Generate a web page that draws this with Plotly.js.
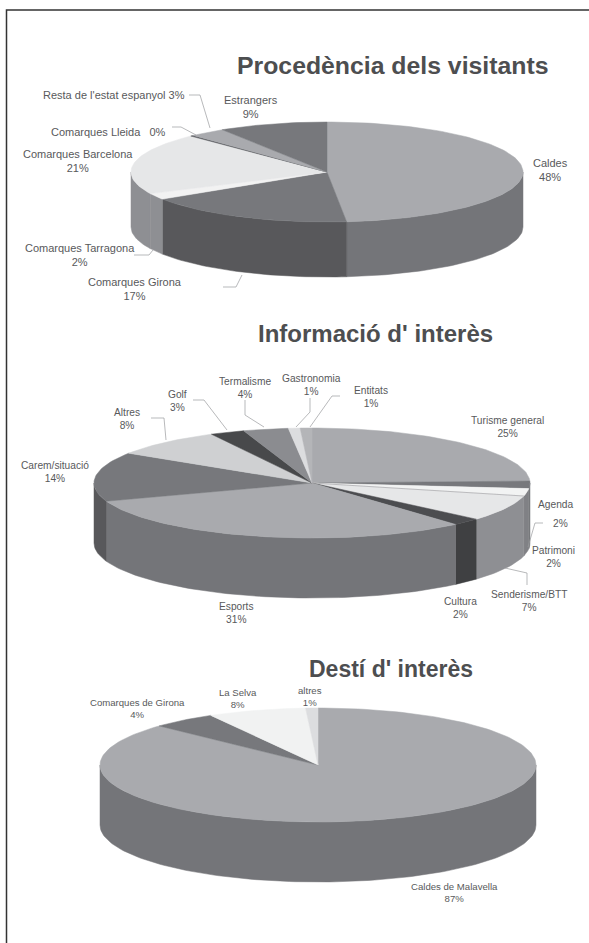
<!DOCTYPE html>
<html><head><meta charset="utf-8">
<script src="https://cdn.plot.ly/plotly-3.0.1.min.js"></script>
<style>html,body{margin:0;padding:0;background:#fff}#c{width:589px;height:943px}</style>
</head><body><div id="c"></div>
<script>
// ---- data: slices clockwise from twelve o'clock
const labels1 = ["Caldes","Comarques Girona","Comarques Tarragona","Comarques Barcelona","Comarques Lleida","Resta de l'estat espanyol","Estrangers"];
const values1 = [48,17,2,21,0.3,3,9];
const shown1  = ["48%","17%","2%","21%","0%","3%","9%"];
const labels2 = ["Turisme general","Agenda","Patrimoni","Senderisme/BTT","Cultura","Esports","Carem/situació","Altres","Golf","Termalisme","Gastronomia","Entitats"];
const values2 = [25,2,2,7,2,31,14,8,3,4,1,1];
const shown2  = ["25%","2%","2%","7%","2%","31%","14%","8%","3%","4%","1%","1%"];
const labels3 = ["Caldes de Malavella","Comarques de Girona","La Selva","altres"];
const values3 = [87,4,8,1];
const shown3  = ["87%","4%","8%","1%"];
const titles  = ["Procedència dels visitants","Informació d' interès","Destí d' interès"];

// ---- styling
const top1 = ["#a9aaae","#77787c","#f2f2f2","#e6e7e8","#55565a","#a9aaae","#77787c"];
const sid1 = ["#747579","#58585b","#8e8f93","#8e8f93","#55565a","#8e8f93","#58585b"];
const top2 = ["#a9aaae","#77787c","#f2f3f3","#e6e7e8","#4c4d50","#a9aaae","#77787c","#cfd0d2","#48494b","#8b8c90","#dcdddf","#b4b5b8"];
const sid2 = ["#747579","#77787c","#808185","#8e8f93","#3f4042","#747579","#58585b","#8e8f93","#3f4042","#747579","#8e8f93","#8e8f93"];
const top3 = ["#a9aaae","#77787c","#f1f2f2","#dcdddf"];
const sid3 = ["#747579","#58585b","#a9aaae","#a9aaae"];

// ---- geometry of each pie in page pixels; the tilted 3-D view slightly shifts where an angle lands on the rim
const warp1 = [[0,0],[175,2],[238,4],[300,2],[317,0],[360,0]];
const warp2 = [[0,0],[90,-2],[135,2],[175,2],[238,4],[250,2],[300,4],[330,5],[345,2],[360,0]];
const warp3 = [[0,0],[313,0],[328,3],[360,0]];
const pies = [
 {v:values1,t:top1,s:sid1,names:labels1,w:warp1,cx:327,cy:172,rx:196,ry:50,d:55},
 {v:values2,t:top2,s:sid2,names:labels2,w:warp2,cx:312,cy:483,rx:218,ry:55,d:60},
 {v:values3,t:top3,s:sid3,names:labels3,w:warp3,cx:318,cy:765,rx:218,ry:57,d:60}
];
const warp = (tb,a) => { for(let i=1;i<tb.length;i++){const p=tb[i-1],q=tb[i];
    if(a<=q[0]) return a+p[1]+(q[1]-p[1])*(a-p[0])/(q[0]-p[0]);} return a; };
const traces = [];
const arc=(p,a0,a1,dy)=>{const xs=[],ys=[];const n=Math.max(2,Math.ceil(Math.abs(a1-a0)/1.5));
  for(let i=0;i<=n;i++){const a=(a0+(a1-a0)*i/n)*Math.PI/180;xs.push(p.cx+p.rx*Math.sin(a));ys.push(p.cy-p.ry*Math.cos(a)+dy);}
  return [xs,ys];};
const addPoly=(xs,ys,color,name)=>traces.push({type:'scatter',mode:'lines',x:xs,y:ys,fill:'toself',fillcolor:color,
  line:{color:color,width:0.5},hoverinfo:'text',text:name,showlegend:false,xaxis:'x',yaxis:'y'});
pies.forEach((p,pi)=>{
  const tot=p.v.reduce((a,b)=>a+b,0);let a=0;const spans=p.v.map(v=>{const s=[warp(p.w,a),warp(p.w,a+v/tot*360)];a+=v/tot*360;return s;});
  // side wall: only the front half (90..270 degrees) is visible
  spans.forEach((s,i)=>{const a0=Math.max(s[0],90),a1=Math.min(s[1],270);if(a1<=a0)return;
    const [x1,y1]=arc(p,a0,a1,0),[x2,y2]=arc(p,a1,a0,p.d);
    addPoly(x1.concat(x2,[x1[0]]),y1.concat(y2,[y1[0]]),p.s[i],p.names[i]);});
  // top face
  spans.forEach((s,i)=>{const [x,y]=arc(p,s[0],s[1],0);
    addPoly([p.cx].concat(x,[p.cx]),[p.cy].concat(y,[p.cy]),p.t[i],p.names[i]);});
  // hairline between Patrimoni and Senderisme/BTT
  if(pi===1){const [x,y]=arc(p,spans[2][1],spans[2][1],0);
    traces.push({type:'scatter',mode:'lines',x:[p.cx,x[0]],y:[p.cy,y[0]],line:{color:'#9a9b9e',width:0.6},hoverinfo:'skip',showlegend:false});}
});

// ---- label placement (page pixels): anchor centre of each two-line label
const place = [
 [labels1,shown1,[[550,170],[135,289],[80,255],[78,161],[108,132],[114,95],[251,107]],11],
 [labels2,shown2,[[507,427],[555,504],[553,557],[529,601],[460,608],[236,613],[55,472],[127,419],[177,401],[245,388],[311,385],[371,397]],10.2],
 [labels3,shown3,[[454,892],[137,708],[238,698],[310,696]],9.6]
];
const annotations=[];
const textColor='#58595b';
place.forEach(([n,v,pos,size])=>n.forEach((name,i)=>{
  const font={family:'Liberation Sans, Arial, sans-serif',size:size,color:textColor};
  let txt = name+'<br>'+v[i];
  if(name==="Resta de l'estat espanyol") txt=name+' '+v[i];
  if(name==="Comarques Lleida") txt=name+'   '+v[i];
  if(name==="Agenda"){ txt=name;
    annotations.push({x:560,y:523,xref:'x',yref:'y',text:v[i],showarrow:false,font}); }
  annotations.push({x:pos[i][0],y:pos[i][1],xref:'x',yref:'y',text:txt,showarrow:false,align:'center',font});
}));
[[392,65,24.8],[375,333,24],[391,669,23]].forEach((t,i)=>annotations.push({x:t[0],y:t[1],xref:'x',yref:'y',text:'<b>'+titles[i]+'</b>',
  showarrow:false,font:{family:'Liberation Sans, Arial, sans-serif',size:t[2],color:'#4d4e50'}}));

// ---- leader lines and page frame (page pixels)
const leaders=[
 [[189,200,210],[95,95,128]],[[172,181,196],[127,127,135]],[[134,149,153],[255,255,250]],[[223,236,242],[287,287,275]],
 [[151,164,166],[418,418,440]],[[193,204,227],[400,400,430]],[[245,245,264],[400,415,427]],
 [[310,310,296],[398,412,427]],[[340,332,310],[396,396,427]],[[543,535,528],[523,523,547]],[[505,527,527],[568,573,585]]
];
leaders.forEach(l=>traces.push({type:'scatter',mode:'lines',x:l[0],y:l[1],line:{color:'#9a9b9e',width:0.7},hoverinfo:'skip',showlegend:false}));
const shapes=[{type:'rect',xref:'x',yref:'y',x0:6.5,x1:620,y0:10,y1:990,line:{color:'#333333',width:1.5},fillcolor:'rgba(0,0,0,0)',layer:'below'}];

Plotly.newPlot('c',traces,{width:589,height:943,margin:{l:0,r:0,t:0,b:0},paper_bgcolor:'#fff',plot_bgcolor:'#fff',
 xaxis:{range:[0,589],visible:false,fixedrange:true},yaxis:{range:[943,0],visible:false,fixedrange:true},
 annotations,shapes,showlegend:false},{displayModeBar:false,staticPlot:true});
</script></body></html>
